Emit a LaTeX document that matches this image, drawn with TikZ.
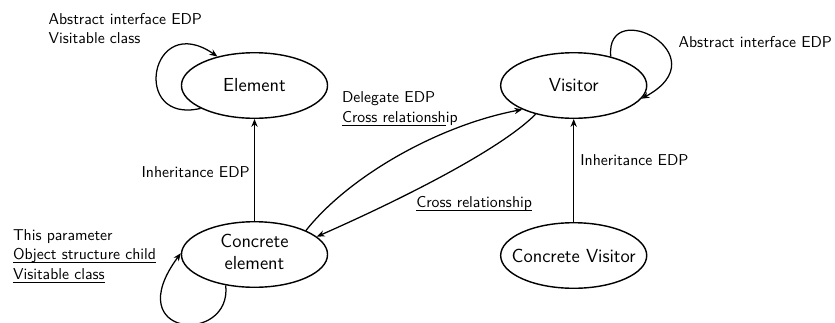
\documentclass[tikz,border=0pt]{standalone}
\usetikzlibrary{arrows.meta,shapes.geometric}

% underline at a fixed depth below the baseline
\newcommand{\ulbar}[1]{\sbox0{#1}\rlap{\rule[-2pt]{\wd0}{0.45pt}}\usebox0}
% zero-width box so the ellipse keeps its set size
\newcommand{\ctext}[1]{\makebox[0pt]{#1}}

\begin{document}
\begin{tikzpicture}[x=0.636pt, y=-0.636pt,
  state/.style={draw, ellipse, line width=0.9pt, inner sep=0pt,
    minimum width=92.9pt, minimum height=41.7pt, font=\sffamily\large},
  link/.style={line width=0.8pt, -{Stealth[length=5pt,width=4pt,inset=1.6pt]}},
  lbl/.style={inner sep=0pt, font=\sffamily\normalsize}]
\useasboundingbox (0,0) rectangle (835,322);

% states
\node[state] (element)  at (254.5,85.5)  {\ctext{Element}};
\node[state] (visitor)  at (573.7,85.5)  {\ctext{Visitor}};
\node[state] (celem)    at (254.5,254.5) {\ctext{\begin{tabular}{@{}c@{}}Concrete\\element\end{tabular}}};
\node[state] (cvisitor) at (573.7,255.5) {\ctext{Concrete Visitor}};

% inheritance
\draw[link] (celem.north) -- (element.south);
\draw[link] (cvisitor.north) -- (visitor.south);

% delegation and cross relationship
\draw[link] (celem.25) .. controls (350,175) and (440,125) .. (visitor.205);
\draw[link] (visitor.217) .. controls (500,150) and (400,200) .. (celem.16);

% self loops
\draw[link] (element.203) .. controls (130,125) and (150,10) .. (element.142);
\draw[link] (visitor.38) .. controls (605,-5) and (722,55) .. (visitor.-11);
\draw[link] (celem.227) .. controls (232,345) and (118,338) .. (celem.179);

% labels
\def\arraystretch{1.05}
\node[lbl, anchor=base west] (lelem) at (48.3,24)
  {\begin{tabular}[t]{@{}l@{}}Abstract interface EDP\\Visitable class\end{tabular}};
\node[lbl, anchor=base west] (lvis) at (678.3,47.3) {Abstract interface EDP};
\node[lbl, anchor=base east] (linhl) at (250,177.7) {Inheritance EDP};
\node[lbl, anchor=base west] (linhr) at (580,165) {Inheritance EDP};
\node[lbl, anchor=base west] (ldel) at (341.7,102.7)
  {\begin{tabular}[t]{@{}l@{}}Delegate EDP\\\ulbar{Cross relationsh}ip\end{tabular}};
\node[lbl, anchor=base west] (lcross) at (416,207.7) {\ulbar{Cross relationship}};
\node[lbl, anchor=base west] (lcelem) at (12.7,240)
  {\begin{tabular}[t]{@{}l@{}}This parameter\\\ulbar{Object structure child}\\\ulbar{Visitable class}\end{tabular}};
\end{tikzpicture}
\end{document}
